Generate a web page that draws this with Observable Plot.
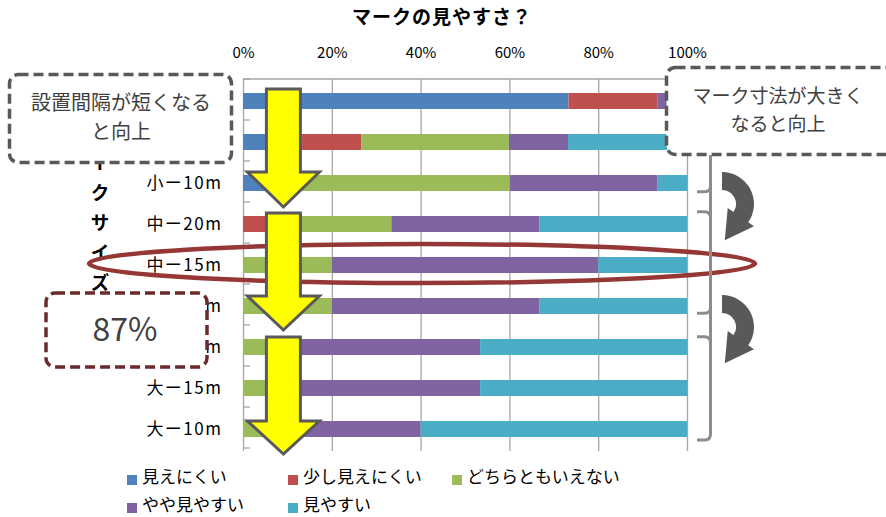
<!DOCTYPE html>
<html><head><meta charset="utf-8">
<script src="https://cdn.jsdelivr.net/npm/d3@7"></script>
<script src="https://cdn.jsdelivr.net/npm/@observablehq/plot@0.6"></script>
<style>body{margin:0;background:#fff} #chart{width:886px;height:517px;overflow:hidden}</style>
</head><body><div id="chart"></div>
<script>
// ---- data ----
const title = "マークの見やすさ？";
const yTitle = "マークサイズ";
const rows = ["小ー20m","小ー15m","小ー10m","中ー20m","中ー15m","中ー10m","大ー20m","大ー15m","大ー10m"];
const categories = ["見えにくい","少し見えにくい","どちらともいえない","やや見やすい","見やすい"];
const colors = ["#4F81BD","#C0504D","#9BBB59","#8064A2","#4BACC6"];
const mienikui   = [73.3, 13.3,  6.7,  0.0,  0.0,  0.0,  0.0,  0.0,  0.0];
const sukoshi    = [20.0, 13.3,  6.7,  6.7,  0.0,  0.0,  0.0,  0.0,  0.0];
const dochira    = [ 0.0, 33.3, 46.7, 26.7, 20.0, 20.0,  6.7,  6.7,  6.7];
const yaya       = [ 6.7, 13.3, 33.3, 33.3, 60.0, 46.7, 46.7, 46.7, 33.3];
const miyasui    = [ 0.0, 26.7,  6.7, 33.3, 20.0, 33.3, 46.7, 46.7, 60.0];
const xTicks = [0, 20, 40, 60, 80, 100];
const note1 = ["設置間隔が短くなる", "と向上"];
const note2 = ["マーク寸法が大きく", "なると向上"];
const note3 = "87%";

const series = [mienikui, sukoshi, dochira, yaya, miyasui];
const table = [];
categories.forEach((c, i) => rows.forEach((r, j) => table.push({row: r, cat: c, value: series[i][j]})));

const FONT = "'Noto Sans CJK JP','Noto Sans',sans-serif";
const W = 886, H = 517, ML = 243, MR = 199, MT = 79, MB = 66;

const chart = Plot.plot({
  width: W, height: H, marginLeft: ML, marginRight: MR, marginTop: MT, marginBottom: MB,
  style: {fontFamily: FONT, background: "#fff", color: "#000", overflow: "visible"},
  x: {domain: [0, 100], label: null},
  y: {domain: rows, paddingInner: 0.6, paddingOuter: 0.3, label: null},
  color: {domain: categories, range: colors},
  marks: [
    Plot.gridX(xTicks, {stroke: "#a6a6a6", strokeOpacity: 1, strokeWidth: 1.3}),
    Plot.barX(table, Plot.stackX({x: "value", y: "row", fill: "cat", order: categories})),
    Plot.axisX(xTicks, {anchor: "top", tickSize: 0, tickPadding: 22, fontSize: 15, tickFormat: d => d + "%", label: null}),
    Plot.axisY({anchor: "left", tickSize: 0, tickPadding: 21, fontSize: 17, label: null})
  ]
});
document.getElementById("chart").appendChild(chart);

const svg = d3.select(chart);
const xs = chart.scale("x"), ys = chart.scale("y");
const X = v => xs.apply(v);
const step = ys.step || ((H - MT - MB) / rows.length);
const y0 = MT;

svg.selectAll("g[aria-label='y-axis tick label'] text").attr("letter-spacing", "1.5px");

const ov = svg.append("g").attr("text-anchor", "start");
// top border + band-boundary ticks
ov.append("line").attr("x1", X(0)).attr("x2", X(100)).attr("y1", y0).attr("y2", y0)
  .attr("stroke", "#a6a6a6").attr("stroke-width", 1.3);
d3.range(rows.length + 1).forEach(i => {
  const yy = y0 + i * step;
  ov.append("line").attr("x1", X(0)).attr("x2", X(0) + 7).attr("y1", yy).attr("y2", yy)
    .attr("stroke", "#a6a6a6").attr("stroke-width", 1.3);
});

// title
ov.append("text").attr("x", 442).attr("y", 19).attr("text-anchor", "middle").attr("dominant-baseline", "middle")
  .attr("font-size", 19).attr("font-weight", "bold").attr("letter-spacing", "1px").text(title);

// vertical axis title
Array.from(yTitle).forEach((ch, i) => {
  ov.append("text").attr("x", 100).attr("y", 133 + 30 * i).attr("text-anchor", "middle")
    .attr("style", "writing-mode: vertical-rl;").attr("font-size", 19).attr("font-weight", "bold").text(ch);
});

// ellipse
ov.append("ellipse").attr("cx", 422).attr("cy", 263.5).attr("rx", 333).attr("ry", 19.5)
  .attr("fill", "none").attr("stroke", "#953735").attr("stroke-width", 4.5);

// yellow arrows
const ax = X(9.1);
[[89, 172, 207], [213, 296, 330], [337, 421, 454]].forEach(([t, h, tip]) => {
  const p = `M${ax - 17},${t} L${ax + 17},${t} L${ax + 17},${h} L${ax + 36},${h} L${ax},${tip} L${ax - 36},${h} L${ax - 17},${h} Z`;
  ov.append("path").attr("d", p).attr("fill", "#FFFF00").attr("stroke", "#595959").attr("stroke-width", 3).attr("stroke-linejoin", "miter");
});

// note boxes
function box(x, y, w, h, stroke) {
  ov.append("rect").attr("x", x).attr("y", y).attr("width", w).attr("height", h).attr("rx", 9)
    .attr("fill", "#fff").attr("stroke", stroke).attr("stroke-width", 3.5).attr("stroke-dasharray", "10,5");
}
box(9.5, 74.5, 222, 88, "#595959");
note1.forEach((t, i) => ov.append("text").attr("x", 121).attr("y", 105 + 29 * i).attr("text-anchor", "middle")
  .attr("dominant-baseline", "middle").attr("font-size", 20).attr("fill", "#404040").text(t));
box(666.5, 67.5, 240, 87, "#595959");
note2.forEach((t, i) => ov.append("text").attr("x", 778).attr("y", 98 + 28 * i).attr("text-anchor", "middle")
  .attr("dominant-baseline", "middle").attr("font-size", 19).attr("fill", "#404040").text(t));
box(46, 293, 161, 74, "#6b2b2b");
ov.append("text").attr("x", 125).attr("y", 332).attr("text-anchor", "middle").attr("dominant-baseline", "middle")
  .attr("font-size", 32).attr("fill", "#404040").text(note3);

// brackets
const bx = 710.5, bl = 697;
let bp = `M${bx},155 L${bx},434 Q${bx},440 ${bx - 6},440 L${bl},440`;
[191.7, 313.3].forEach(yy => { bp += ` M${bx},${yy - 6} Q${bx},${yy} ${bx - 6},${yy} L${bl},${yy}`; });
[211.7, 336.7].forEach(yy => { bp += ` M${bl},${yy} L${bx - 6},${yy} Q${bx},${yy} ${bx},${yy + 6}`; });
ov.append("path").attr("d", bp).attr("fill", "none").attr("stroke", "#8c8c8c").attr("stroke-width", 3);

// curved arrows
function curved(cx, cy) {
  const R = 32, r = 14, te = 35 * Math.PI / 180, c = Math.cos(te), s = Math.sin(te);
  const rm = (R + r) / 2, L = 28;
  const tip = [cx + rm * c - L * s, cy + rm * s + L * c];
  const d = `M${cx},${cy - R} A${R},${R} 0 0 1 ${cx + R * c},${cy + R * s} L${cx + (R + 7) * c},${cy + (R + 7) * s} L${tip[0]},${tip[1]} L${cx + (r - 7) * c},${cy + (r - 7) * s} L${cx + r * c},${cy + r * s} A${r},${r} 0 0 0 ${cx},${cy - r} Z`;
  ov.append("path").attr("d", d).attr("fill", "#595959");
}
curved(722, 204);
curved(722, 327);

// legend
const colX = [127, 288, 452], rowY = [478, 506];
categories.forEach((c, i) => {
  const cx = colX[i % 3], cy = rowY[Math.floor(i / 3)];
  ov.append("rect").attr("x", cx).attr("y", cy - 3).attr("width", 10).attr("height", 10).attr("fill", colors[i]);
  ov.append("text").attr("x", cx + 15).attr("y", cy).attr("text-anchor", "start")
    .attr("dominant-baseline", "middle").attr("font-size", 17).attr("fill", "#000").text(c);
});
</script>
</body></html>
